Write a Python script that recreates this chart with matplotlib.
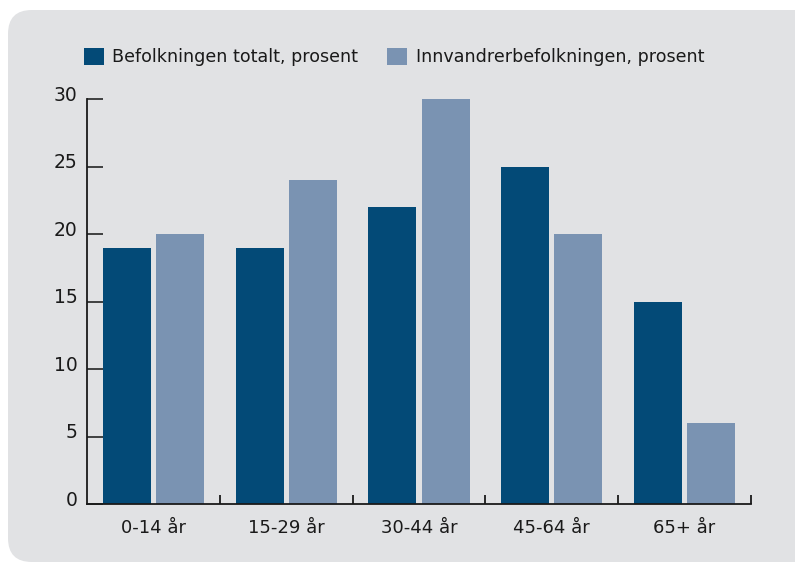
import matplotlib
matplotlib.use("Agg")
import matplotlib.pyplot as plt
from matplotlib.patches import FancyBboxPatch
from matplotlib.transforms import ScaledTranslation
import numpy as np

categories = ["0-14 år", "15-29 år", "30-44 år", "45-64 år", "65+ år"]
series_names = ["Befolkningen totalt, prosent", "Innvandrerbefolkningen, prosent"]
totalt = [19, 19, 22, 25, 15]
innvandrer = [20, 24, 30, 20, 6]
y_ticks = [0, 5, 10, 15, 20, 25, 30]

dark = "#034a77"
light = "#7a93b2"
panel = "#e1e2e4"

plt.rcParams['font.family'] = ['DejaVu Sans']

fig = plt.figure(figsize=(7.95, 5.65), dpi=100)
fig.patch.set_facecolor("white")

# rounded background panel
W, H = 795, 565
bg = FancyBboxPatch((8 / W, 3 / H), 1.2, (552 / H), boxstyle="round,pad=0,rounding_size=0.03",
                    transform=fig.transFigure, facecolor=panel, edgecolor="none", zorder=-5,
                    mutation_aspect=W / H)
fig.patches.append(bg)

ax = fig.add_axes([87 / W, 1 - 504 / H, (751 - 87) / W, (504 - 99) / H])
ax.set_facecolor("none")

x = np.arange(len(categories))
bw = 0.362
b1 = ax.bar(x - 0.2, totalt, width=bw, color=dark, label=series_names[0], zorder=2)
b2 = ax.bar(x + 0.2, innvandrer, width=bw, color=light, label=series_names[1], zorder=2)

ax.set_xlim(-0.5, len(categories) - 0.5)
ax.set_ylim(0, 30)

for s in ["top", "right"]:
    ax.spines[s].set_visible(False)
for s in ["left", "bottom"]:
    ax.spines[s].set_color("#1a1a1a")
    ax.spines[s].set_linewidth(1.3)

ax.set_yticks(y_ticks)
ax.set_yticklabels([str(v) for v in y_ticks])
ax.tick_params(axis="y", direction="in", length=11.5, width=1.3, color="#333333",
               labelsize=13.5, pad=7, labelcolor="#1a1a1a")
shift = ScaledTranslation(0, 4 / 72, fig.dpi_scale_trans)
for lbl in ax.get_yticklabels():
    lbl.set_transform(lbl.get_transform() + shift)

ax.set_xticks(x)
ax.set_xticklabels(categories)
ax.tick_params(axis="x", which="major", length=0, labelsize=13, pad=11, labelcolor="#1a1a1a")
ax.set_xticks(np.arange(0.5, len(categories), 1.0), minor=True)
ax.tick_params(axis="x", which="minor", direction="in", length=6.5, width=1.3, color="#1a1a1a")

leg = fig.legend(handles=[b1, b2], labels=series_names, loc="center left",
                 bbox_to_anchor=(80 / W, 1 - 57 / H), ncol=2, frameon=False,
                 handlelength=1.15, handleheight=1.15, handletextpad=0.5,
                 columnspacing=1.65, fontsize=12.6, borderaxespad=0, borderpad=0.2)
for t in leg.get_texts():
    t.set_color("#1a1a1a")

fig.savefig("out.png", dpi=100, facecolor=fig.get_facecolor())
